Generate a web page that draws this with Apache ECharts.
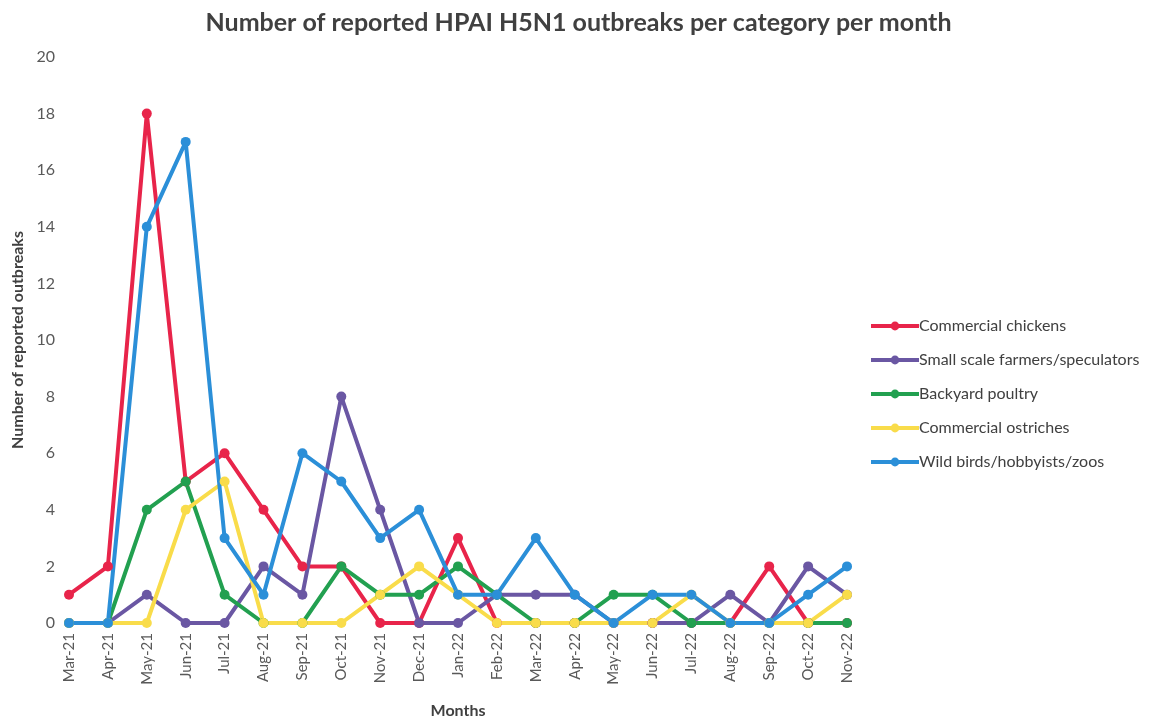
<!DOCTYPE html>
<html>
<head>
<meta charset="utf-8">
<script src="https://cdn.jsdelivr.net/npm/echarts@6/dist/echarts.min.js"></script>
<style>
  html, body { margin: 0; padding: 0; background: #fff; }
  #chart { width: 1157px; height: 722px; }
</style>
</head>
<body>
<div id="chart"></div>
<script>
var months = ['Mar-21', 'Apr-21', 'May-21', 'Jun-21', 'Jul-21', 'Aug-21', 'Sep-21', 'Oct-21', 'Nov-21', 'Dec-21',
  'Jan-22', 'Feb-22', 'Mar-22', 'Apr-22', 'May-22', 'Jun-22', 'Jul-22', 'Aug-22', 'Sep-22', 'Oct-22', 'Nov-22']

var commercialChickens = [1, 2, 18, 5, 6, 4, 2, 2, 0, 0, 3, 0, 0, 0, 0, 0, 0, 0, 2, 0, 0]
var smallScale = [0, 0, 1, 0, 0, 2, 1, 8, 4, 0, 0, 1, 1, 1, 0, 0, 0, 1, 0, 2, 1]
var backyard = [0, 0, 4, 5, 1, 0, 0, 2, 1, 1, 2, 1, 0, 0, 1, 1, 0, 0, 0, 0, 0]
var ostriches = [0, 0, 0, 4, 5, 0, 0, 0, 1, 2, 1, 0, 0, 0, 0, 0, 1, 0, 0, 0, 1]
var wildBirds = [0, 0, 14, 17, 3, 1, 6, 5, 3, 4, 1, 1, 3, 1, 0, 1, 1, 0, 0, 1, 2]

var yTicks = [0, 2, 4, 6, 8, 10, 12, 14, 16, 18, 20]

var font = 'Lato'
var myChart = echarts.init(document.getElementById('chart'))

function line(name, data, color) {
  return {
    name: name,
    type: 'line',
    data: data,
    symbol: 'circle',
    symbolSize: 10,
    lineStyle: { width: 4, color: color },
    itemStyle: { color: color },
    emphasis: { disabled: true }
  }
}

var option = {
  animation: false,
  title: {
    text: 'Number of reported HPAI H5N1 outbreaks per category per month',
    left: 'center',
    top: 5,
    textStyle: { fontFamily: font, fontSize: 25, fontWeight: 'bold', color: '#404040' }
  },
  legend: {
    orient: 'vertical',
    left: 864,
    top: 313,
    itemGap: 18,
    itemWidth: 48,
    itemHeight: 11,
    lineStyle: { width: 4 },
    textStyle: { fontFamily: font, fontSize: 16, color: '#404040', padding: [0, 0, 0, -5] }
  },
  grid: { left: 69, right: 310, top: 57, bottom: 99, outerBoundsMode: 'none' },
  xAxis: {
    type: 'category',
    data: months,
    boundaryGap: false,
    name: 'Months',
    nameLocation: 'middle',
    nameGap: 80,
    nameTextStyle: { fontFamily: font, fontSize: 16, fontWeight: 'bold', color: '#404040' },
    axisLine: { show: false },
    axisTick: { show: false },
    axisLabel: { rotate: 90, fontFamily: font, fontSize: 15, color: '#595959', margin: 10 }
  },
  yAxis: {
    type: 'value',
    min: yTicks[0],
    max: yTicks[yTicks.length - 1],
    interval: 2,
    name: 'Number of reported outbreaks',
    nameLocation: 'middle',
    nameGap: 42,
    nameTextStyle: { fontFamily: font, fontSize: 16, fontWeight: 'bold', color: '#404040' },
    axisLine: { show: false },
    axisTick: { show: false },
    splitLine: { show: false },
    axisLabel: { fontFamily: font, fontSize: 16, color: '#595959', margin: 14 }
  },
  series: [
    line('Commercial chickens', commercialChickens, '#e8244a'),
    line('Small scale farmers/speculators', smallScale, '#6a57a3'),
    line('Backyard poultry', backyard, '#22a050'),
    line('Commercial ostriches', ostriches, '#f9dc4a'),
    line('Wild birds/hobbyists/zoos', wildBirds, '#2b8fd8')
  ]
}

option && myChart.setOption(option)
</script>
</body>
</html>
